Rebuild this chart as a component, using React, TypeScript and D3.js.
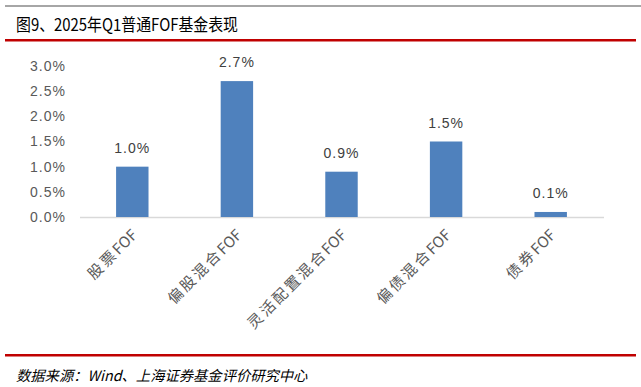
import React from "react";
import * as d3 from "d3";

const categories = ["股票FOF", "偏股混合FOF", "灵活配置混合FOF", "偏债混合FOF", "债券FOF"];
const values = [1.0, 2.7, 0.9, 1.5, 0.1];
const yTicks = [0, 0.5, 1.0, 1.5, 2.0, 2.5, 3.0];
const titleText = "图9、2025年Q1普通FOF基金表现";
const sourceText = "数据来源：Wind、上海证券基金评价研究中心";

export default function App() {
  const W = 641, H = 387;
  const x = d3.scaleBand<string>().domain(categories).range([80, 603]).paddingInner(0.69).paddingOuter(0.345);
  const y = d3.scaleLinear().domain([0, 3]).range([217, 66]);
  const font = "'Noto Sans CJK SC', 'Noto Sans', sans-serif";
  return (
    <div style={{ position: "absolute", left: 0, top: 0 }}>
      <svg width={W} height={H} style={{ display: "block" }}>
        <rect x={0} y={0} width={W} height={H} fill="#fff" />
        <rect x={5} y={5} width={636} height={2} fill="#a6a6a6" />
        <text x={16} y={31} fontFamily={font} fontSize={17} fill="#000" textLength={222} lengthAdjust="spacingAndGlyphs">{titleText}</text>
        <rect x={5} y={39} width={631} height={2.5} fill="#c00000" />
        {yTicks.map((t) => (
          <text key={t} x={66} y={y(t)} dy="0.35em" textAnchor="end" fontFamily="'Liberation Sans', Arial, sans-serif" fontSize={14} fill="#595959" letterSpacing={1}>
            {t.toFixed(1) + "%"}
          </text>
        ))}
        <line x1={80} x2={604} y1={217.5} y2={217.5} stroke="#d9d9d9" strokeWidth={1.5} />
        {categories.map((c, i) => {
          const cjk = c.replace("FOF", "");
          return (
            <g key={c}>
              <rect x={x(c)!} y={y(values[i])} width={x.bandwidth()} height={y(0) - y(values[i])} fill="#4f81bd" />
              <text x={x(c)! + x.bandwidth() / 2} y={y(values[i]) - 14} textAnchor="middle" fontFamily="'Liberation Sans', Arial, sans-serif" fontSize={14} fill="#404040" letterSpacing={1}>
                {values[i].toFixed(1) + "%"}
              </text>
              <text transform={`translate(${x(c)! + x.bandwidth() / 2 + 6},${236}) rotate(-45)`} textAnchor="end" fontFamily={font} fontSize={15} fill="#595959">
                <tspan letterSpacing={2.5}>{cjk}</tspan>
                <tspan letterSpacing={0}>FOF</tspan>
              </text>
            </g>
          );
        })}
        <rect x={5} y={354} width={631} height={2.5} fill="#c00000" />
        <text x={16} y={381} fontFamily={font} fontSize={14.3} fontStyle="italic" fill="#000">{sourceText}</text>
      </svg>
    </div>
  );
}
